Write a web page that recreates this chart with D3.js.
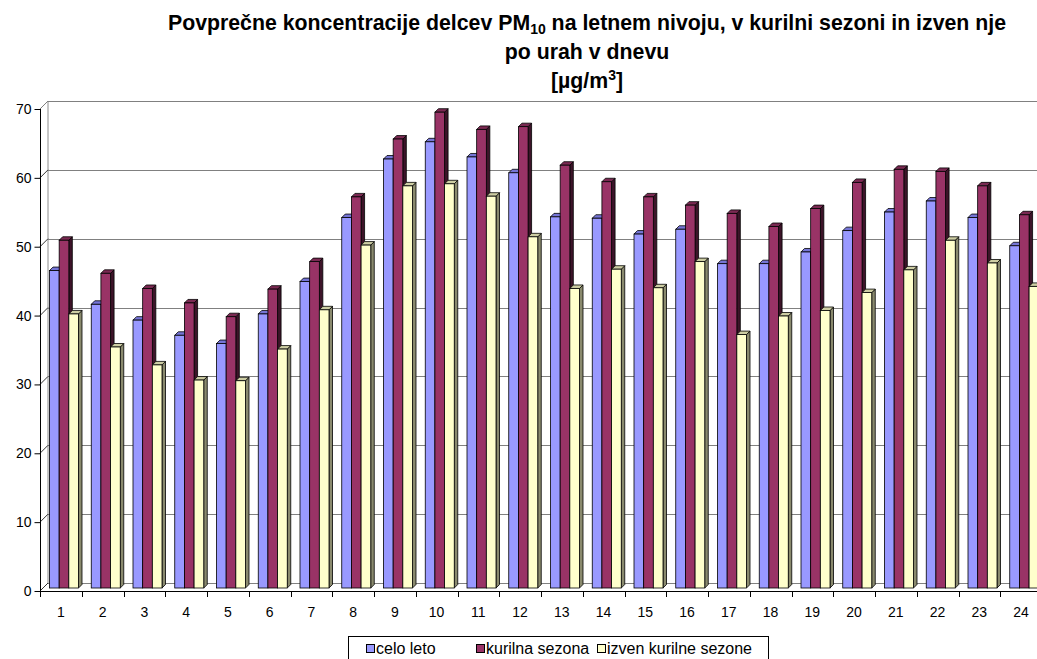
<!DOCTYPE html>
<html>
<head>
<meta charset="utf-8">
<script src="https://cdn.jsdelivr.net/npm/d3@7"></script>
<style>
  html, body { margin: 0; padding: 0; background: #fff; }
  svg { display: block; font-family: "Liberation Sans", Arial, sans-serif; }
</style>
</head>
<body>
<svg id="chart" width="1037" height="659"></svg>
<script>
// Hourly PM10 averages (µg/m³) for hours 1–24
const hours = d3.range(1, 25);
const celoLeto = [46.1, 41.2, 38.9, 36.7, 35.5, 39.8, 44.5, 53.8, 62.3, 64.8, 62.6, 60.3,
                  53.9, 53.7, 51.4, 52.1, 47.1, 47.1, 48.8, 51.9, 54.6, 56.2, 53.8, 49.7];
const kurilnaSezona = [50.5, 45.7, 43.5, 41.4, 39.4, 43.4, 47.4, 56.8, 65.2, 69.1, 66.6, 67.0,
                       61.4, 59.0, 56.8, 55.6, 54.4, 52.5, 55.1, 58.9, 60.8, 60.5, 58.4, 54.2];
const izvenKurilne = [39.8, 35.0, 32.4, 30.2, 30.1, 34.7, 40.4, 49.8, 58.4, 58.7, 56.9, 51.0,
                      43.5, 46.3, 43.6, 47.4, 36.8, 39.5, 40.3, 42.9, 46.2, 50.5, 47.2, 43.8];
const seriesNames = ["celo leto", "kurilna sezona", "izven kurilne sezone"];
const yTicks = [0, 10, 20, 30, 40, 50, 60, 70];

const series = [
  { name: seriesNames[0], values: celoLeto,      front: "#9999FF", top: "#7575d6", side: "#4c4c80" },
  { name: seriesNames[1], values: kurilnaSezona, front: "#993366", top: "#7a2952", side: "#3d1429" },
  { name: seriesNames[2], values: izvenKurilne,  front: "#FFFFCC", top: "#cdcda3", side: "#8a8a6e" }
];

const W = 1037, H = 659;
const svg = d3.select("#chart");

// plot geometry: front plane and back wall (3-D depth offset)
const axisX = 40, frontBase = 591, frontTop = 109;
const depthX = 8, depthY = -8;
const barShift = 3;          // bars sit a little behind the front plane
const barDepth = 3.5;        // visible depth of each column

const yFront = d3.scaleLinear().domain([0, 70]).range([frontBase, frontTop]);
const yBack  = d3.scaleLinear().domain([0, 70]).range([frontBase + depthY, frontTop + depthY]);
const yBar   = d3.scaleLinear().domain([0, 70]).range([frontBase - barShift, frontTop - barShift]);

const x0 = d3.scaleBand().domain(hours).range([axisX, axisX + 24 * 41.75]).padding(0);
const x1 = d3.scaleBand().domain(seriesNames).range([9.5, 9.5 + 29]).padding(0);

const g = svg.append("g");

// left side wall
g.append("path")
  .attr("d", `M${axisX},${yFront(70)} L${axisX + depthX},${yBack(70)} L${axisX + depthX},${yBack(0)} L${axisX},${yFront(0)} Z`)
  .attr("fill", "#fff").attr("stroke", "none");
g.append("line")
  .attr("x1", axisX + depthX).attr("x2", axisX + depthX)
  .attr("y1", yBack(70)).attr("y2", yBack(0))
  .attr("stroke", "#8c8c8c").attr("stroke-width", 1);

// back-wall gridlines
g.selectAll("line.grid").data(yTicks.filter(d => d > 0)).join("line")
  .attr("class", "grid")
  .attr("x1", axisX + depthX).attr("x2", W)
  .attr("y1", d => Math.round(yBack(d)) + 0.5).attr("y2", d => Math.round(yBack(d)) + 0.5)
  .attr("stroke", "#808080").attr("stroke-width", 1.2);

// diagonal tick connectors on the side wall
g.selectAll("line.wallTick").data(yTicks).join("line")
  .attr("class", "wallTick")
  .attr("x1", axisX).attr("y1", d => yFront(d))
  .attr("x2", axisX + depthX).attr("y2", d => yBack(d))
  .attr("stroke", d => d === 70 ? "#808080" : "#333").attr("stroke-width", 1);

// floor back edge
g.append("line")
  .attr("x1", axisX + depthX).attr("x2", W)
  .attr("y1", Math.round(yBack(0)) + 0.5).attr("y2", Math.round(yBack(0)) + 0.5)
  .attr("stroke", "#808080").attr("stroke-width", 1.2);

// columns
const groups = g.selectAll("g.hour").data(hours).join("g")
  .attr("class", "hour")
  .attr("transform", d => `translate(${x0(d)},0)`);

series.forEach(s => {
  groups.each(function (h, i) {
    const v = s.values[i];
    const bx = x1(s.name);
    const bw = x1.bandwidth();
    const yt = yBar(v), yb = yBar(0);
    const sel = d3.select(this);
    // right side face
    sel.append("path")
      .attr("d", `M${bx + bw},${yt} L${bx + bw + barDepth},${yt - barDepth} L${bx + bw + barDepth},${yb - barDepth} L${bx + bw},${yb} Z`)
      .attr("fill", s.side).attr("stroke", "#000").attr("stroke-width", 0.8).attr("stroke-linejoin", "round");
    // top face
    sel.append("path")
      .attr("d", `M${bx},${yt} L${bx + barDepth},${yt - barDepth} L${bx + bw + barDepth},${yt - barDepth} L${bx + bw},${yt} Z`)
      .attr("fill", s.top).attr("stroke", "#000").attr("stroke-width", 0.8).attr("stroke-linejoin", "round");
    // front face
    sel.append("rect")
      .attr("x", bx).attr("y", yt).attr("width", bw).attr("height", yb - yt)
      .attr("fill", s.front).attr("stroke", "#000").attr("stroke-width", 0.8);
  });
});

// value axis
g.append("line")
  .attr("x1", axisX + 0.5).attr("x2", axisX + 0.5)
  .attr("y1", yFront(70)).attr("y2", yFront(0))
  .attr("stroke", "#000");
const yAxis = d3.axisLeft(yFront).tickValues(yTicks).tickSize(6).tickPadding(3);
g.append("g").attr("transform", `translate(${axisX + 0.5},0)`).call(yAxis)
  .call(a => a.select(".domain").remove())
  .call(a => a.selectAll("text").attr("font-size", 14).attr("fill", "#000").attr("font-family", "Liberation Sans, Arial, sans-serif"));

// category axis
g.append("line")
  .attr("x1", axisX).attr("x2", W)
  .attr("y1", frontBase + 0.5).attr("y2", frontBase + 0.5)
  .attr("stroke", "#000");
g.selectAll("line.xtick").data(d3.range(0, 25)).join("line")
  .attr("class", "xtick")
  .attr("x1", d => Math.round(axisX + d * x0.step()) + 0.5)
  .attr("x2", d => Math.round(axisX + d * x0.step()) + 0.5)
  .attr("y1", frontBase).attr("y2", frontBase + 6)
  .attr("stroke", "#000");
g.selectAll("text.xlab").data(hours).join("text")
  .attr("class", "xlab")
  .attr("x", d => x0(d) + x0.bandwidth() / 2)
  .attr("y", 617)
  .attr("text-anchor", "middle")
  .attr("font-size", 14)
  .text(d => d);

// title
const title = svg.append("text").attr("text-anchor", "middle").attr("font-weight", "bold").attr("font-size", 21.3);
const t1 = title.append("tspan").attr("x", 587).attr("y", 30);
t1.append("tspan").text("Povprečne koncentracije delcev PM");
t1.append("tspan").attr("font-size", 14).attr("dy", 4).text("10");
t1.append("tspan").attr("dy", -4).text(" na letnem nivoju, v kurilni sezoni in izven nje");
title.append("tspan").attr("x", 587).attr("y", 59).text("po urah v dnevu");
const t3 = title.append("tspan").attr("x", 587).attr("y", 88);
t3.append("tspan").text("[µg/m");
t3.append("tspan").attr("font-size", 14).attr("dy", -8).text("3");
t3.append("tspan").attr("dy", 8).text("]");

// legend
const legend = svg.append("g");
legend.append("rect")
  .attr("x", 348.5).attr("y", 636.5).attr("width", 420).attr("height", 40)
  .attr("fill", "#fff").attr("stroke", "#000");
const legendX = [366, 476, 597];
series.forEach((s, i) => {
  legend.append("rect")
    .attr("x", legendX[i] + 0.5).attr("y", 644.5).attr("width", 8).attr("height", 8)
    .attr("fill", s.front).attr("stroke", "#000");
  legend.append("text")
    .attr("x", legendX[i] + 10).attr("y", 654)
    .attr("font-size", 16)
    .text(s.name);
});
</script>
</body>
</html>
